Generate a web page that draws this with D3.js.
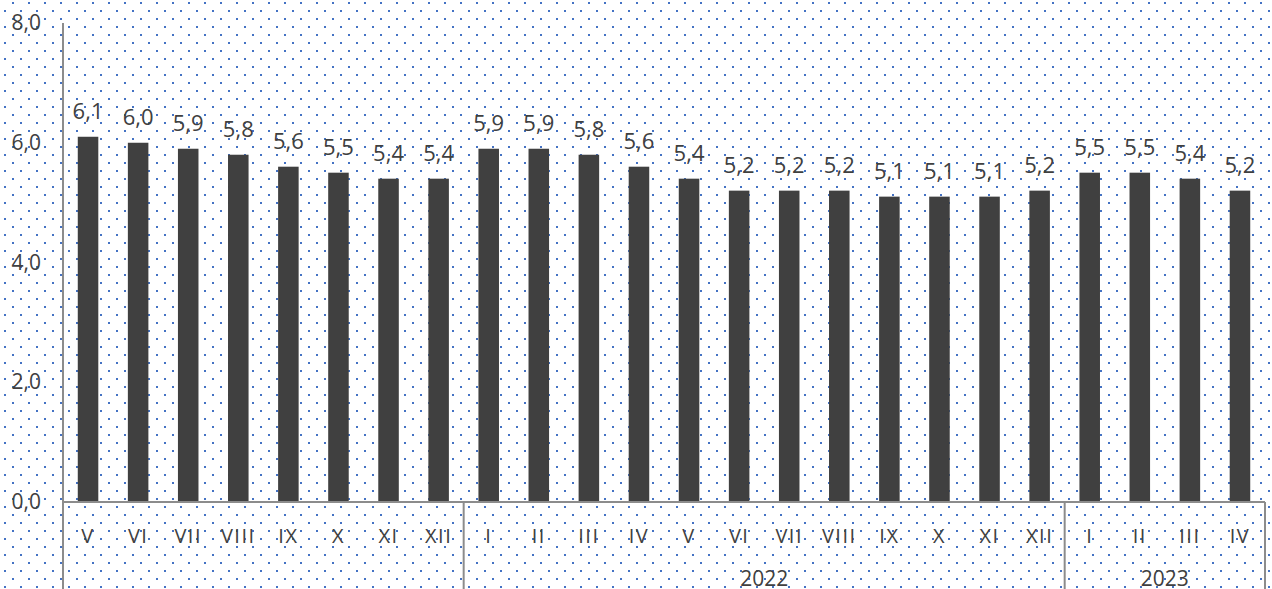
<!DOCTYPE html>
<html>
<head>
<meta charset="utf-8">
<script src="https://cdn.jsdelivr.net/npm/d3@7"></script>
<style>
  body { margin: 0; background: #fff; }
  svg { display: block; font-family: "Open Sans", sans-serif; }
</style>
</head>
<body>
<div id="chart"></div>
<script>
const months = ['V', 'VI', 'VII', 'VIII', 'IX', 'X', 'XI', 'XII',
    'I', 'II', 'III', 'IV', 'V', 'VI', 'VII', 'VIII', 'IX', 'X', 'XI', 'XII',
    'I', 'II', 'III', 'IV'];
const values = [6.1, 6.0, 5.9, 5.8, 5.6, 5.5, 5.4, 5.4,
    5.9, 5.9, 5.8, 5.6, 5.4, 5.2, 5.2, 5.2, 5.1, 5.1, 5.1, 5.2,
    5.5, 5.5, 5.4, 5.2];
const years = ['', '2022', '2023'];
const yearCounts = [8, 12, 4];
const yTicks = [0, 2, 4, 6, 8];

const W = 1272, H = 589;
const margin = { top: 23, right: 7, bottom: 87, left: 63 };
const width = W - margin.left - margin.right;
const height = H - margin.top - margin.bottom;

const comma = v => d3.format('.1f')(v).replace('.', ',');

const root = d3.select('#chart')
    .append('svg')
    .attr('width', W)
    .attr('height', H);

// dotted background
const pat = root.append('defs').append('pattern')
    .attr('id', 'dots')
    .attr('patternUnits', 'userSpaceOnUse')
    .attr('width', 16)
    .attr('height', 16);
pat.append('rect').attr('x', 12).attr('y', 2).attr('width', 2).attr('height', 2).attr('fill', '#4472c4');
pat.append('rect').attr('x', 4).attr('y', 10).attr('width', 2).attr('height', 2).attr('fill', '#4472c4');

root.append('rect')
    .attr('width', W)
    .attr('height', H)
    .attr('fill', 'url(#dots)');

const svg = root.append('g')
    .attr('transform', `translate(${margin.left},${margin.top})`);

const x = d3.scaleBand()
    .domain(d3.range(values.length))
    .range([0, width])
    .paddingInner(0.59)
    .paddingOuter(0.295);

const y = d3.scaleLinear()
    .domain([0, 8])
    .range([height, 0]);

// y axis labels
const yAxis = svg.append('g')
    .call(d3.axisLeft(y).tickValues(yTicks).tickSize(0).tickPadding(22).tickFormat(comma));
yAxis.select('.domain').remove();
yAxis.selectAll('text')
    .attr('font-size', 21)
    .attr('font-family', '"Open Sans", sans-serif')
    .attr('fill', '#404040');

// bars
svg.selectAll('rect.bar')
    .data(values)
    .enter()
    .append('rect')
    .attr('class', 'bar')
    .attr('x', (d, i) => x(i))
    .attr('y', d => y(d))
    .attr('width', x.bandwidth())
    .attr('height', d => height - y(d))
    .attr('fill', '#404040');

// value labels
svg.selectAll('text.val')
    .data(values)
    .enter()
    .append('text')
    .attr('class', 'val')
    .attr('x', (d, i) => x(i) + x.bandwidth() / 2)
    .attr('y', d => y(d) - 18)
    .attr('text-anchor', 'middle')
    .attr('font-size', 22)
    .attr('fill', '#404040')
    .text(d => comma(d));

// month labels
const xAxis = svg.append('g')
    .attr('transform', `translate(0,${height})`)
    .call(d3.axisBottom(x).tickSize(0).tickPadding(27).tickFormat(i => months[i]));
xAxis.select('.domain').remove();
xAxis.selectAll('text')
    .attr('font-size', 20)
    .attr('letter-spacing', 1.5)
    .attr('font-family', '"Open Sans", sans-serif')
    .attr('fill', '#404040');

// axis lines and group separators
const lineColor = '#8c8c8c';
svg.append('line')
    .attr('x1', 0).attr('x2', width)
    .attr('y1', height).attr('y2', height)
    .attr('stroke', lineColor).attr('stroke-width', 2);
svg.append('line')
    .attr('x1', 0).attr('x2', 0)
    .attr('y1', 0).attr('y2', H - margin.top)
    .attr('stroke', lineColor).attr('stroke-width', 2);

let start = 0;
years.forEach((yr, k) => {
    const end = start + yearCounts[k];
    const x0 = x.step() * start;
    const x1 = end === values.length ? width : x.step() * end;
    svg.append('line')
        .attr('x1', x1).attr('x2', x1)
        .attr('y1', height).attr('y2', H - margin.top)
        .attr('stroke', lineColor).attr('stroke-width', 2);
    if (yr) {
        svg.append('text')
            .attr('x', (x0 + x1) / 2)
            .attr('y', height + 84)
            .attr('text-anchor', 'middle')
            .attr('font-size', 21)
            .attr('fill', '#404040')
            .text(yr);
    }
    start = end;
});
</script>
</body>
</html>
